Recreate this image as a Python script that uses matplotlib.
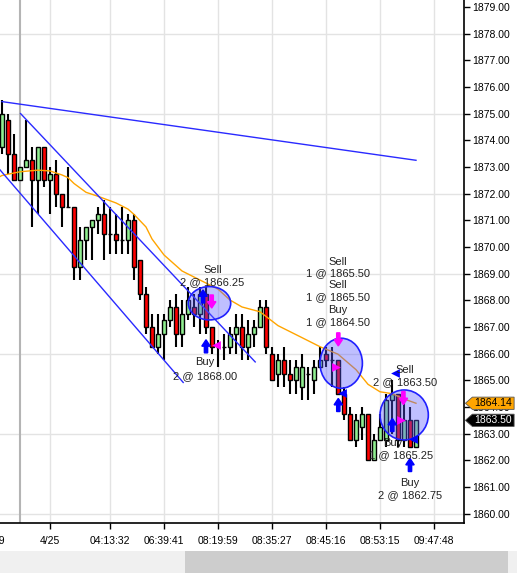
import numpy as np
import matplotlib
matplotlib.use("Agg")
import matplotlib.pyplot as plt
from matplotlib.patches import Ellipse, FancyArrow, Polygon, Rectangle
import matplotlib.transforms as mtransforms

plt.rcParams['font.family'] = ['Liberation Sans', 'DejaVu Sans']

# OHLC candles (ES-style 0.25 ticks)
opens = [1873.75, 1874.75, 1873.5, 1872.5, 1873.0, 1873.25, 1872.5, 1873.75, 1872.5, 1872.75,
         1872.0, 1871.5, 1871.5, 1869.25, 1870.25, 1870.75, 1871.0, 1871.25, 1870.5, 1870.5,
         1870.25, 1870.25, 1871.0, 1869.5, 1868.25, 1867.0, 1866.25, 1866.75, 1867.25, 1867.75,
         1866.75, 1867.5, 1867.75, 1867.5, 1868.25, 1867.0, 1866.25, 1866.25, 1866.25, 1866.75,
         1867.0, 1866.25, 1866.75, 1867.0, 1867.75, 1866.0, 1865.25, 1865.75, 1865.25, 1865.0,
         1864.75, 1865.25, 1865.0, 1865.5, 1866.0, 1865.75, 1865.75, 1864.5, 1863.75, 1862.75,
         1863.25, 1863.75, 1862.0, 1862.75, 1862.75, 1864.25, 1864.5, 1862.75, 1863.5, 1862.5]
highs = [1875.5, 1875.0, 1874.25, 1873.0, 1874.75, 1873.75, 1873.75, 1873.75, 1873.0, 1873.25,
         1872.0, 1873.0, 1871.5, 1870.75, 1870.75, 1871.0, 1871.5, 1871.75, 1871.5, 1871.25,
         1871.5, 1871.25, 1871.25, 1869.5, 1868.5, 1867.5, 1867.5, 1867.5, 1868.0, 1868.25,
         1868.0, 1868.5, 1868.25, 1868.5, 1868.5, 1867.0, 1866.5, 1866.75, 1867.0, 1867.5,
         1867.5, 1867.25, 1867.25, 1868.0, 1868.0, 1866.25, 1866.0, 1866.25, 1865.75, 1865.75,
         1866.0, 1865.5, 1865.75, 1866.25, 1866.25, 1866.25, 1865.75, 1864.75, 1864.0, 1863.75,
         1864.0, 1863.75, 1863.0, 1863.75, 1864.5, 1865.0, 1864.5, 1864.25, 1864.0, 1863.5]
lows = [1873.5, 1872.75, 1872.5, 1872.5, 1873.0, 1870.75, 1871.25, 1872.25, 1871.25, 1871.5,
        1870.75, 1871.5, 1868.75, 1868.75, 1869.5, 1869.5, 1870.5, 1869.5, 1869.75, 1869.75,
        1869.75, 1869.75, 1868.75, 1868.0, 1866.75, 1866.25, 1866.0, 1865.75, 1867.0, 1866.25,
        1866.25, 1867.25, 1867.0, 1866.75, 1866.75, 1866.0, 1865.5, 1865.75, 1866.0, 1866.0,
        1865.75, 1865.75, 1866.25, 1867.0, 1866.0, 1865.0, 1864.75, 1864.75, 1864.5, 1864.5,
        1864.25, 1864.25, 1864.5, 1865.5, 1865.5, 1864.75, 1864.5, 1863.5, 1862.75, 1862.5,
        1862.75, 1862.0, 1862.0, 1862.75, 1862.5, 1863.0, 1862.5, 1862.5, 1862.5, 1862.5]
closes = [1875.0, 1873.5, 1872.5, 1873.0, 1873.25, 1872.5, 1873.75, 1872.5, 1872.75, 1872.0,
          1871.5, 1871.5, 1869.25, 1870.25, 1870.75, 1871.0, 1871.25, 1870.5, 1870.5, 1870.25,
          1870.25, 1871.0, 1869.25, 1868.25, 1867.0, 1866.25, 1866.75, 1867.25, 1867.75, 1866.75,
          1867.5, 1868.0, 1867.5, 1868.25, 1867.0, 1866.25, 1866.25, 1866.25, 1866.75, 1867.0,
          1866.25, 1866.75, 1867.0, 1867.75, 1866.25, 1865.0, 1865.75, 1865.25, 1865.0, 1865.5,
          1865.5, 1865.25, 1865.5, 1865.75, 1865.75, 1865.75, 1864.5, 1863.75, 1862.75, 1863.5,
          1863.75, 1862.0, 1862.75, 1863.25, 1864.25, 1864.5, 1862.75, 1863.5, 1862.5, 1863.5]

# moving average (orange), read at some bars
ma_x = [-0.33, 0, 3, 6, 8, 10, 11, 12, 14, 16, 19, 21, 22, 24, 25, 27, 29, 30, 33, 36, 38,
        40, 43, 46, 50, 53, 56, 59, 61, 63, 65, 67, 69]
ma_y = [1872.64, 1872.68, 1872.82, 1872.88, 1872.85, 1872.7, 1872.6, 1872.38, 1872.05, 1871.9,
        1871.65, 1871.42, 1871.22, 1870.75, 1870.3, 1869.7, 1869.3, 1869.1, 1868.76, 1868.42,
        1868.01, 1867.75, 1867.57, 1867.05, 1866.6, 1866.26, 1865.98, 1865.4, 1864.85, 1864.57,
        1864.5, 1864.3, 1864.14]

# drawn trend lines (bar index, price)
trend_lines = [((0, 1875.45), (69, 1873.25)),
               ((3.1, 1875.0), (42.2, 1865.69)),
               ((-0.33, 1872.89), (30.2, 1864.92))]

# execution markers
buy_arrows = [(34.0, 1866.03), (33.5, 1867.9), (56.05, 1863.83), (65.05, 1863.08), (68.0, 1861.58)]
sell_arrows = [(34.95, 1868.2), (56.05, 1866.78), (66.9, 1864.58)]
sell_tri = [(35.67, 1866.33, '<'), (55.67, 1865.51, '>'), (66.45, 1863.51, '>')]
buy_tri = [(56.6, 1864.52), (68.55, 1862.79), (65.5, 1865.27)]

circles = [(34.58, 1867.89, 7.07, 1.25), (56.53, 1865.64, 7.07, 1.875), (67.03, 1863.70, 8.05, 1.875)]

labels = [("Sell", 35.17, 1869.14), ("2 @ 1866.25", 35.0, 1868.69),
          ("Buy", 33.83, 1865.69), ("2 @ 1868.00", 33.83, 1865.16),
          ("Sell", 56.0, 1869.44), ("1 @ 1865.50", 56.0, 1869.03),
          ("Sell", 56.0, 1868.58), ("1 @ 1865.50", 56.0, 1868.13),
          ("Buy", 56.0, 1867.64), ("1 @ 1864.50", 56.0, 1867.19),
          ("Sell", 67.17, 1865.39), ("2 @ 1863.50", 67.17, 1864.94),
          ("Buy", 65.17, 1862.65), ("1 @ 1865.25", 66.5, 1862.2),
          ("Buy", 68.0, 1861.15), ("2 @ 1862.75", 68.0, 1860.70)]

tick_pos = [8, 18, 27, 36, 45, 54, 63, 72]
tick_labels = ["4/25", "04:13:32", "06:39:41", "08:19:59", "08:35:27", "08:45:16", "08:53:15", "09:47:48"]

ma_last = 1864.14
last_price = 1863.50

fig = plt.figure(figsize=(5.17, 5.73), dpi=100)
ax = fig.add_axes([0, 50 / 573, 464 / 517, 523 / 573])
ax.set_xlim(-1 / 3, 77)
ax.set_ylim(1859.65, 1879.26)

# grid
for p in range(1860, 1880, 3):
    ax.axhline(p, color='#e3e3e3', lw=1, zorder=0)
for t in tick_pos:
    ax.axvline(t, color='#e3e3e3', lw=1, zorder=0)
ax.axvline(3, color='#b4b4b4', lw=1.5, zorder=0)

x = np.arange(len(opens))
o = np.array(opens)
c = np.array(closes)
ax.vlines(x, lows, highs, color='black', lw=1.5, zorder=2)
cols = np.where(c >= o, '#90ee90', '#ff0000')
ax.bar(x, c - o, bottom=o, width=0.8, color=cols, edgecolor='black', lw=1.0, zorder=3)

ax.plot(ma_x, ma_y, color='#ffa500', lw=1, zorder=4)
for (x0, y0), (x1, y1) in trend_lines:
    ax.plot([x0, x1], [y0, y1], color='#2a2aff', lw=1, zorder=4)

for cx, cy, w, h in circles:
    ax.add_patch(Ellipse((cx, cy), w, h, facecolor=(0.35, 0.35, 1, 0.38),
                         edgecolor='#2020ff', lw=1.2, zorder=5))

for bx, by in buy_arrows:
    ax.add_patch(FancyArrow(bx, by, 0, 0.49, width=0.55, head_width=1.4, head_length=0.24,
                            length_includes_head=True, color='#0000ff', zorder=6))
for sx, sy in sell_arrows:
    ax.add_patch(FancyArrow(sx, sy, 0, -0.49, width=0.55, head_width=1.4, head_length=0.24,
                            length_includes_head=True, color='#ff00ff', zorder=6))
for tx, ty, m in sell_tri:
    ax.scatter(tx, ty, marker=m, s=40, color='#ff00ff', zorder=6, linewidths=0)
for tx, ty in buy_tri:
    ax.scatter(tx, ty, marker='<', s=40, color='#0000ff', zorder=6, linewidths=0)

for txt, tx, ty in labels:
    ax.text(tx, ty, txt, ha='center', va='center', fontsize=8, color='#222222', zorder=7)

# axes styling
for s in ['left', 'top']:
    ax.spines[s].set_visible(False)
ax.spines['right'].set_linewidth(1.2)
ax.spines['bottom'].set_linewidth(1.2)
ax.yaxis.tick_right()
ax.set_yticks(range(1860, 1880))
ax.set_yticklabels([f"{v:.2f}" for v in range(1860, 1880)])
ax.set_xticks(tick_pos)
ax.set_xticklabels(tick_labels)
ax.tick_params(axis='both', direction='out', length=4, width=1, labelsize=7.5, colors='black')
ax.tick_params(axis='y', pad=2)
ax.tick_params(axis='x', pad=5)

trans = mtransforms.blended_transform_factory(ax.transData, ax.transAxes)
ax.text(0.4, -0.025, "16:14:59", transform=trans, ha='right', va='top', fontsize=7.5, clip_on=False)

# price tags on the axis
tr = mtransforms.blended_transform_factory(ax.transAxes, ax.transData)
for price, fc, tc in [(ma_last, '#ffa500', 'black'), (last_price, 'black', 'white')]:
    hh = 0.23
    poly = Polygon([(1.003, price), (1.018, price + hh), (1.108, price + hh),
                    (1.108, price - hh), (1.018, price - hh)], closed=True,
                   transform=tr, facecolor=fc, edgecolor='#555555', lw=0.6, clip_on=False, zorder=10)
    ax.add_patch(poly)
    ax.text(1.063, price, f"{price:.2f}", transform=tr, ha='center', va='center',
            fontsize=7.5, color=tc, clip_on=False, zorder=11)

# scrollbar strip at the bottom
fig.patches.append(Rectangle((0, 0), 1, 22 / 573, transform=fig.transFigure,
                             facecolor='#f0f0f0', edgecolor='none'))
fig.patches.append(Rectangle((185 / 517, 0), 323 / 517, 22 / 573, transform=fig.transFigure,
                             facecolor='#cdcdcd', edgecolor='none'))

fig.savefig("out.png", dpi=100, facecolor='white')
